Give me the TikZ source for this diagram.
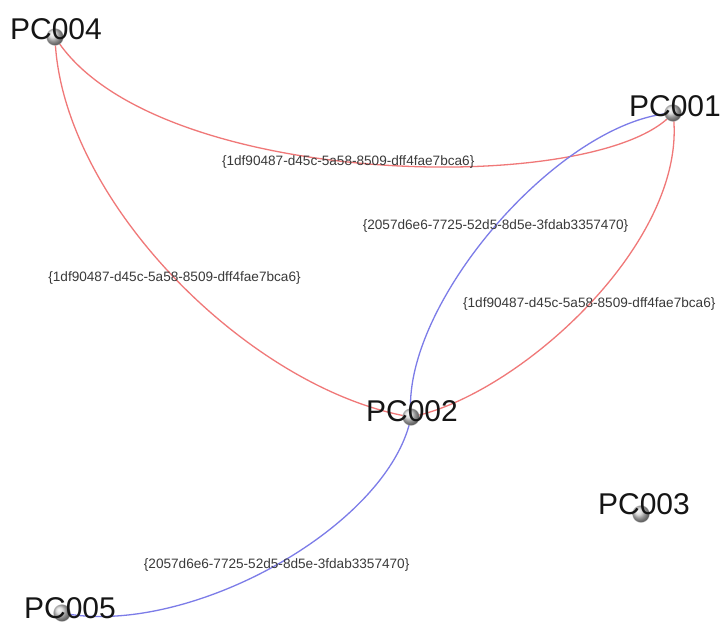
\documentclass[tikz,border=0pt]{standalone}
\usepackage{fontspec}
\setmainfont{Liberation Sans}
\usetikzlibrary{shapes.geometric}
\definecolor{edgered}{HTML}{F07878}
\definecolor{edgeblue}{HTML}{7C7CE8}
\definecolor{lbl}{HTML}{3A3A3A}
\definecolor{ntext}{HTML}{151515}
\begin{document}
\begin{tikzpicture}[x=1pt,y=-1pt,
  vtx/.style={circle,inner sep=0pt,minimum size=17pt,ball color=gray!35,draw=gray!45,line width=0.3pt},
  vname/.style={text=ntext,font=\fontsize{30}{30}\selectfont,inner sep=0pt,anchor=center},
  redge/.style={draw=edgered,line width=1.3pt},
  bedge/.style={draw=edgeblue,line width=1.3pt},
  elabel/.style={text=lbl,font=\fontsize{13.6}{14}\selectfont,inner sep=0pt}]
\useasboundingbox (0,0) rectangle (722,624);
\fill[white] (0,0) rectangle (722,624);
% vertex positions
\coordinate (c4) at (55,37);
\coordinate (c1) at (673,113);
\coordinate (c2) at (411,417);
\coordinate (c3) at (641,514);
\coordinate (c5) at (62,613);
% edges
\draw[redge] (c4) .. controls (150,190) and (600,198) .. (c1)
  node[elabel,pos=0.47] (l1) {\{1df90487-d45c-5a58-8509-dff4fae7bca6\}};
\draw[redge] (c4) .. controls (60,200) and (250,390) .. (c2)
  node[elabel,pos=0.5] (l2) {\{1df90487-d45c-5a58-8509-dff4fae7bca6\}};
\draw[redge] (c1) .. controls (690,240) and (520,395) .. (c2)
  node[elabel,pos=0.5] (l3) {\{1df90487-d45c-5a58-8509-dff4fae7bca6\}};
\draw[bedge] (c1) .. controls (560,120) and (400,305) .. (c2)
  node[elabel,pos=0.5] (l4) {\{2057d6e6-7725-52d5-8d5e-3fdab3357470\}};
\draw[bedge] (c2) .. controls (390,525) and (190,638) .. (c5)
  node[elabel,pos=0.5] (l5) {\{2057d6e6-7725-52d5-8d5e-3fdab3357470\}};
% vertex circles
\node[vtx] (v4) at (c4) {};
\node[vtx] (v1) at (c1) {};
\node[vtx] (v2) at (c2) {};
\node[vtx] (v3) at (c3) {};
\node[vtx] (v5) at (c5) {};
% vertex names
\node[vname] (n4) at (56,29) {PC004};
\node[vname] (n1) at (675,106) {PC001};
\node[vname] (n2) at (412,411) {PC002};
\node[vname] (n3) at (644,504) {PC003};
\node[vname] (n5) at (70,608) {PC005};
\end{tikzpicture}
\end{document}
